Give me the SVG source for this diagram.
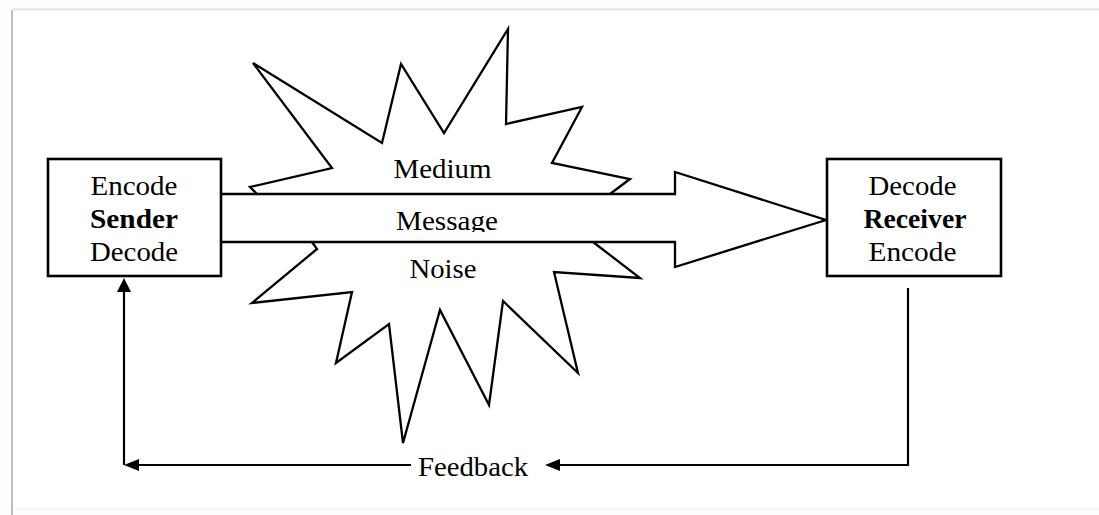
<svg xmlns="http://www.w3.org/2000/svg" width="1099" height="515" viewBox="0 0 1099 515">
  <style>
    .shape { fill: #ffffff; stroke: #000000; stroke-width: 2.3; stroke-linejoin: miter; }
    .box { fill: #ffffff; stroke: #000000; stroke-width: 2.6; }
    .line { fill: none; stroke: #000000; stroke-width: 2.2; }
    .head { fill: #000000; stroke: none; }
    .t { font-family: "Liberation Serif", "Times New Roman", serif; font-size: 26.5px; fill: #000000; text-anchor: middle; }
    .b { font-weight: bold; }
  </style>
  <defs>
    <clipPath id="msgclip"><rect x="221" y="196" width="460" height="36"/></clipPath>
  </defs>
  <rect x="0" y="0" width="1099" height="515" fill="#fdfdfd"/>
  <g id="page">
    <rect x="12" y="10" width="1087" height="499" fill="#ffffff"/>
    <line x1="12" y1="9.5" x2="1099" y2="9.5" stroke="#e4e4e4" stroke-width="2"/>
    <line x1="12" y1="509" x2="1099" y2="509" stroke="#f0f0f0" stroke-width="1.5"/>
    <line x1="12" y1="10" x2="12" y2="515" stroke="#bdbdbd" stroke-width="2"/>
  </g>

  <g id="noise-burst">
    <polyline class="shape" points="257,194 250,187 332,168 253,63 382,143 401,64 444,133 508,29 506,124 582,107 552,163 630,179 610,194"/>
    <polyline class="shape" points="312,242 317,249 252,303 352,292 336,363 389,324 403,443 440,310 489,405 503,301 578,373 554,272 640,278 593,242"/>
  </g>

  <g id="message-arrow">
    <path class="shape" d="M221,194 L675,194 L675,172 L826,220 L675,267 L675,242 L221,242"/>
  </g>

  <g id="sender">
    <rect class="box" x="48" y="159" width="173" height="117"/>
    <text class="t" x="134" y="195" textLength="87" lengthAdjust="spacingAndGlyphs">Encode</text>
    <text class="t b" x="134" y="228" textLength="88" lengthAdjust="spacingAndGlyphs">Sender</text>
    <text class="t" x="134" y="261" textLength="88" lengthAdjust="spacingAndGlyphs">Decode</text>
  </g>

  <g id="receiver">
    <rect class="box" x="827" y="159" width="174" height="117"/>
    <text class="t" x="912.5" y="195" textLength="88" lengthAdjust="spacingAndGlyphs">Decode</text>
    <text class="t b" x="915" y="228" textLength="103" lengthAdjust="spacingAndGlyphs">Receiver</text>
    <text class="t" x="912.5" y="261" textLength="88" lengthAdjust="spacingAndGlyphs">Encode</text>
  </g>

  <g id="labels">
    <text class="t" x="442.5" y="178" textLength="98" lengthAdjust="spacingAndGlyphs">Medium</text>
    <text class="t" x="447" y="230" textLength="102" lengthAdjust="spacingAndGlyphs" clip-path="url(#msgclip)">Message</text>
    <text class="t" x="443" y="278" textLength="67" lengthAdjust="spacingAndGlyphs">Noise</text>
  </g>

  <g id="connectors">
    <polyline class="line" points="908,288 908,465 558,465"/>
    <polygon class="head" points="545,465 560,459 560,471"/>
    <polyline class="line" points="411,465 136,465"/>
    <polygon class="head" points="124,465 139,459 139,471"/>
    <line class="line" x1="124" y1="465" x2="124" y2="290"/>
    <polygon class="head" points="124,278 117,292 131,292"/>
  </g>

  <g id="feedback">
    <text class="t" x="473" y="476" textLength="110" lengthAdjust="spacingAndGlyphs">Feedback</text>
  </g>
</svg>
